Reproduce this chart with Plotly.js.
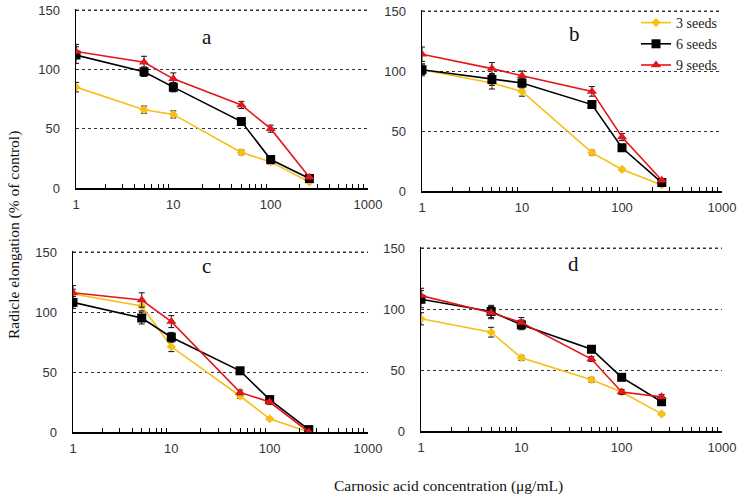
<!DOCTYPE html>
<html><head><meta charset="utf-8">
<script src="https://cdn.plot.ly/plotly-3.0.1.min.js"></script>
<style>html,body{margin:0;padding:0;background:#fff}#chart{width:738px;height:504px}</style>
</head><body><div id="chart"></div>
<script>
// Concentrations (µg/mL)
const conc = [1, 5, 10, 50, 100, 250];
const seriesNames = ['3 seeds', '6 seeds', '9 seeds'];
const panelLabels = ['a', 'b', 'c', 'd'];
const xTickVals = [1, 10, 100, 1000];
const xTickText = ['1', '10', '100', '1000'];
const yTickVals = [0, 50, 100, 150];

// Panel a
const a3 = [85, 66, 62, 30, 22, 5];
const a6 = [112, 98, 85, 56, 24, 8];
const a9 = [115, 106, 92, 70, 50, 9];
const a3err = [4, 3, 3, 2, 2, 1];
const a6err = [7, 4, 4, 2, 2, 1];
const a9err = [6, 5, 5, 3, 3, 1];
// Panel b
const b3 = [101, 90, 83, 32, 18, 5];
const b6 = [101, 93, 90, 72, 36, 7];
const b9 = [114, 102, 96, 83, 45, 9];
const b3err = [4, 5, 4, 2, 1, 1];
const b6err = [5, 5, 4, 3, 2, 1];
const b9err = [6, 5, 4, 4, 3, 1];
// Panel c
const c3 = [115, 105, 71, 30, 11, 0];
const c6 = [108, 95, 79, 51, 27, 2];
const c9 = [116, 110, 92, 33, 25, 0];
const c3err = [4, 4, 4, 2, 1, 0];
const c6err = [5, 5, 4, 2, 2, 1];
const c9err = [6, 6, 5, 2, 2, 0];
// Panel d
const d3 = [92, 81, 60, 42, 32, 14];
const d6 = [108, 98, 87, 67, 44, 24];
const d9 = [111, 97, 89, 59, 32, 28];
const d3err = [5, 4, 2, 2, 1, 1];
const d6err = [7, 5, 4, 2, 2, 2];
const d9err = [6, 5, 4, 2, 2, 2];

const panels = [
  {vals: [a3, a6, a9], errs: [a3err, a6err, a9err]},
  {vals: [b3, b6, b9], errs: [b3err, b6err, b9err]},
  {vals: [c3, c6, c9], errs: [c3err, c6err, c9err]},
  {vals: [d3, d6, d9], errs: [d3err, d6err, d9err]}
];

const colors = ['#F7BE16', '#000000', '#E3161B'];
const symbols = ['diamond', 'square', 'triangle-up'];
const sizes = [7, 9, 9];

const W = 738, H = 504;
// pixel boxes [left, right, top, bottom] (top is the 150 line)
const boxes = [
  [76, 368, 10, 188],
  [422, 722, 11, 191],
  [73, 368, 252, 432],
  [421, 722, 248, 431]
];
// panel letter positions in axis-domain fractions
const labelPos = [[0.449, 0.843], [0.507, 0.867], [0.454, 0.917], [0.508, 0.907]];
const yTop = 151; // a hair above 150 so the top grid line is visible
const yMax = 150;

const traces = [];
const layout = {
  width: W, height: H,
  margin: {l: 0, r: 0, t: 0, b: 0},
  paper_bgcolor: '#fff', plot_bgcolor: '#fff',
  showlegend: true,
  legend: {x: 636 / W, y: 1 - 7 / H, xanchor: 'left', yanchor: 'top',
           bgcolor: 'rgba(0,0,0,0)', font: {family: 'Liberation Serif', size: 14, color: '#222'},
           itemwidth: 30, tracegroupgap: 0},
  annotations: [],
  shapes: []
};

panels.forEach((p, i) => {
  const n = i + 1;
  const xa = n === 1 ? 'x' : 'x' + n;
  const ya = n === 1 ? 'y' : 'y' + n;
  p.vals.forEach((v, s) => {
    traces.push({
      x: conc, y: v, xaxis: xa, yaxis: ya,
      type: 'scatter', mode: 'lines+markers',
      name: seriesNames[s], showlegend: i === 1,
      line: {color: colors[s], width: 1.6},
      marker: {color: colors[s], symbol: symbols[s], size: sizes[s]},
      error_y: {type: 'data', array: p.errs[s], color: '#111', thickness: 1, width: 3}
    });
  });
  const b = boxes[i];
  const pxPerUnit = (b[3] - b[2]) / 150;
  const topPx = b[3] - yTop * pxPerUnit;
  layout['xaxis' + (n === 1 ? '' : n)] = {
    type: 'log', range: [0, 3], domain: [b[0] / W, b[1] / W], anchor: ya,
    tickmode: 'array', tickvals: xTickVals, ticktext: xTickText,
    ticks: '', showgrid: false, zeroline: false,
    showline: true, linecolor: '#000', linewidth: 1.5,
    tickfont: {family: 'Liberation Sans', size: 13, color: '#333'},
    ticklabelstandoff: 4,
    minor: {tickmode: 'array', tickvals: [2,3,4,5,6,7,8,9,20,30,40,50,60,70,80,90,200,300,400,500,600,700,800,900],
            ticks: 'inside', ticklen: 4, tickcolor: '#000', tickwidth: 1, showgrid: false}
  };
  layout['yaxis' + (n === 1 ? '' : n)] = {
    range: [0, yTop], domain: [1 - b[3] / H, 1 - topPx / H], anchor: xa,
    tickmode: 'array', tickvals: yTickVals, ticks: '',
    showgrid: true, gridcolor: '#333', gridwidth: 1, griddash: '3px,3px',
    zeroline: false, showline: true, linecolor: '#000', linewidth: 1.5,
    tickfont: {family: 'Liberation Sans', size: 13, color: '#333'},
    ticklabelstandoff: 12
  };
  layout.shapes.push({
    type: 'line', xref: xa + ' domain', yref: ya, x0: 0, x1: 1, y0: yMax, y1: yMax,
    line: {color: '#333', width: 1, dash: '3px,3px'}, layer: 'below'
  });
  layout.annotations.push({
    text: panelLabels[i], xref: xa + ' domain', yref: ya + ' domain',
    x: labelPos[i][0], y: labelPos[i][1], xanchor: 'center', yanchor: 'middle', showarrow: false,
    font: {family: 'Liberation Serif', size: 21, color: '#111'}
  });
});

layout.annotations.push({
  text: 'Radicle elongation (% of control)', xref: 'paper', yref: 'paper',
  x: 14 / W, y: 1 - 235 / H, xanchor: 'center', yanchor: 'middle', textangle: -90, showarrow: false,
  font: {family: 'Liberation Serif', size: 15.5, color: '#111'}
});
layout.annotations.push({
  text: 'Carnosic acid concentration (μg/mL)', xref: 'paper', yref: 'paper',
  x: 448 / W, y: 1 - 486 / H, xanchor: 'center', yanchor: 'middle', showarrow: false,
  font: {family: 'Liberation Serif', size: 15.5, color: '#111'}
});

Plotly.newPlot('chart', traces, layout, {displayModeBar: false, staticPlot: true});
</script></body></html>
